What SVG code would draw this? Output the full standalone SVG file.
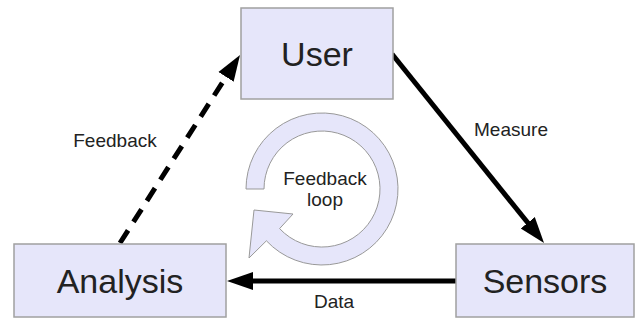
<svg xmlns="http://www.w3.org/2000/svg" width="640" height="320" viewBox="0 0 640 320">
<style>
.box{fill:#e6e6fa;stroke:#a0a0a0;stroke-width:1.5}
.big{font-family:"Liberation Sans",Arial,sans-serif;font-size:34px;fill:#222;text-anchor:middle}
.lbl{font-family:"Liberation Sans",Arial,sans-serif;font-size:19px;fill:#222;text-anchor:middle}
.edge{stroke:#000;stroke-width:5;fill:none}
</style>
<defs>
<marker id="ah" markerUnits="userSpaceOnUse" markerWidth="30" markerHeight="20" refX="2" refY="0" viewBox="0 -10 30 20" orient="auto">
<path d="M0,-9 L26,0 L0,9 z" fill="#000"/>
</marker>
</defs>
<rect width="640" height="320" fill="#fff"/>
<g id="edges">
<line class="edge" x1="392" y1="54" x2="529" y2="224.3" marker-end="url(#ah)"/>
<line class="edge" x1="456" y1="281" x2="251" y2="281" marker-end="url(#ah)"/>
<line class="edge" x1="120" y1="243" x2="227.1" y2="75.2" stroke-dasharray="15 10" marker-end="url(#ah)"/>
<text class="lbl" x="511" y="136">Measure</text>
<text class="lbl" x="334" y="308">Data</text>
<text class="lbl" x="115" y="147">Feedback</text>
</g>
<g id="loop">
<path d="M246 189 A76 76 0 1 1 266.4 240.8 L249 258 L254 210 L293 214 L279.6 228.6 A58 58 0 1 0 264 189 Z" fill="#e6e6fa" stroke="#999" stroke-width="1"/>
<text class="lbl" x="325" y="185">Feedback</text>
<text class="lbl" x="325" y="206">loop</text>
</g>
<g id="user">
<rect class="box" x="241" y="8" width="152" height="91"/>
<text class="big" x="317" y="66">User</text>
</g>
<g id="analysis">
<rect class="box" x="14" y="244" width="212" height="73"/>
<text class="big" x="120" y="293">Analysis</text>
</g>
<g id="sensors">
<rect class="box" x="456" y="244" width="178" height="73"/>
<text class="big" x="545" y="293">Sensors</text>
</g>
</svg>
